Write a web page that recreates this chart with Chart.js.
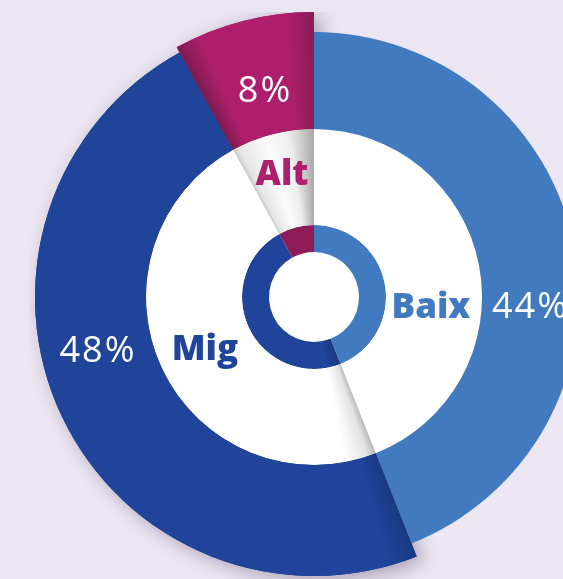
<!DOCTYPE html>
<html>
<head>
<meta charset="utf-8">
<script src="https://cdn.jsdelivr.net/npm/chart.js@4.4.0/dist/chart.umd.min.js"></script>
<style>
  html, body { margin: 0; padding: 0; width: 563px; height: 579px; overflow: hidden; background: #ebe6f1; }
  #wrap { position: absolute; left: 29px; top: 12px; width: 570px; height: 570px; }
</style>
</head>
<body>
<div id="wrap"><canvas id="chart"></canvas></div>
<script>
// chart data
const labels = ["Baix", "Mig", "Alt"];
const shares = [44, 48, 8];
const shareLabels = ["44%", "48%", "8%"];

// colours
const baseColors = ["#427ac0", "#1f4499", "#ad1f6c"];
const innerDark = ["#427ac0", "#1a3a85", "#8c1b57"];

// outer ring: each slice sticks out a bit differently
const radiusScale = [265 / 285, 279 / 285, 1];

// start / end angle of every slice, degrees clockwise from the top
var total = shares.reduce(function (a, b) { return a + b; }, 0);
var startDeg = [], endDeg = [], acc = 0;
shares.forEach(function (v) {
  startDeg.push(acc / total * 360);
  acc += v;
  endDeg.push(acc / total * 360);
});

function center(chart) {
  var a = chart.chartArea;
  return { x: (a.left + a.right) / 2, y: (a.top + a.bottom) / 2 };
}

function conic(chart, stops) {
  var c = center(chart);
  var g = chart.ctx.createConicGradient(-Math.PI / 2, c.x, c.y);
  stops.forEach(function (s) { g.addColorStop(Math.min(s[0] / 360, 1), s[1]); });
  return g;
}

function outerColor(ctx) {
  var i = ctx.dataIndex;
  if (!ctx.chart.chartArea || i === 0) return baseColors[i];
  var s = startDeg[i], e = endDeg[i];
  if (i === 1) {
    return conic(ctx.chart, [[s, "#183a84"], [s + 6, baseColors[1]], [e, baseColors[1]]]);
  }
  return conic(ctx.chart, [[s, "#7e1a50"], [s + 5, baseColors[2]], [e - 6, baseColors[2]], [e, "#8a1c58"]]);
}

function spacerColor(ctx) {
  var i = ctx.dataIndex;
  if (!ctx.chart.chartArea || i === 0) return "#ffffff";
  var s = startDeg[i], e = endDeg[i];
  if (i === 1) {
    return conic(ctx.chart, [[s, "#b9b9b9"], [s + 3, "#e4e4e4"], [s + 11, "#ffffff"], [e, "#ffffff"]]);
  }
  return conic(ctx.chart, [[s, "#c9c9c9"], [s + 2, "#e6e6e6"], [s + 12, "#fbfbfb"], [e - 9, "#eeeeee"], [e, "#a8a8a8"]]);
}

function innerColor(ctx) {
  var i = ctx.dataIndex;
  if (!ctx.chart.chartArea || i !== 1) return innerDark[i];
  var s = startDeg[i], e = endDeg[i];
  return conic(ctx.chart, [[s, "#1a3781"], [s + 12, baseColors[1]], [e, baseColors[1]]]);
}

// ring sizes (px at 285 outer radius): outer 168-285, white 72-168, inner 45-72
const ringPlugin = {
  id: "ringPlugin",
  afterDatasetUpdate: function (chart, args) {
    if (args.index !== 0) return;
    var base = args.meta.controller.outerRadius;
    args.meta.data.forEach(function (arc, i) {
      arc.outerRadius = base * radiusScale[i];
    });
  },
  beforeDatasetsDraw: function (chart) {
    var ctx = chart.ctx, c = center(chart);
    var r = chart.getDatasetMeta(1).controller.outerRadius;
    ctx.save();
    ctx.fillStyle = "#ffffff";
    ctx.beginPath();
    ctx.arc(c.x, c.y, r, 0, Math.PI * 2);
    ctx.fill();
    ctx.restore();
  },
  beforeDatasetDraw: function (chart, args) {
    if (args.index !== 0) return;
    // soft shadow of the raised slices, on the background only
    var ctx = chart.ctx, c = center(chart);
    var inner = args.meta.controller.innerRadius;
    ctx.save();
    ctx.beginPath();
    ctx.rect(0, 0, chart.width, chart.height);
    ctx.arc(c.x, c.y, inner, 0, Math.PI * 2, true);
    ctx.clip("evenodd");
    ctx.shadowColor = "rgba(60, 40, 80, 0.38)";
    ctx.shadowBlur = 18;
    ctx.shadowOffsetX = 6;
    ctx.shadowOffsetY = 4;
    args.meta.data.forEach(function (arc, i) {
      if (i > 0) arc.draw(ctx);
    });
    ctx.restore();
  },
  afterDraw: function (chart) {
    var ctx = chart.ctx, c = center(chart);
    ctx.save();
    ctx.textBaseline = "alphabetic";
    // percentages on the outer ring
    ctx.fillStyle = "#ffffff";
    ctx.font = "400 36px 'Open Sans'";
    ctx.letterSpacing = "2px";
    ctx.textAlign = "center";
    ctx.fillText(shareLabels[2], c.x - 49, c.y - 195);
    ctx.fillText(shareLabels[1], c.x - 216, c.y + 65);
    ctx.textAlign = "left";
    ctx.fillText(shareLabels[0], c.x + 178, c.y + 21);
    // category names on the white disc
    ctx.letterSpacing = "0px";
    ctx.font = "800 35px 'Open Sans'";
    ctx.textAlign = "center";
    ctx.fillStyle = baseColors[2];
    ctx.fillText(labels[2], c.x - 32, c.y - 112);
    ctx.fillStyle = baseColors[0];
    ctx.fillText(labels[0], c.x + 117, c.y + 21);
    ctx.fillStyle = baseColors[1];
    ctx.fillText(labels[1], c.x - 109, c.y + 63);
    ctx.restore();
  }
};

new Chart(document.getElementById("chart"), {
  type: "doughnut",
  data: {
    labels: labels,
    datasets: [
      { data: shares, backgroundColor: outerColor, weight: 117 },
      { data: shares, backgroundColor: spacerColor, weight: 96 },
      { data: shares, backgroundColor: innerColor, weight: 27 }
    ]
  },
  options: {
    responsive: true,
    maintainAspectRatio: false,
    animation: false,
    events: [],
    cutout: 45,
    layout: { padding: 0 },
    elements: { arc: { borderWidth: 0, hoverBorderWidth: 0, hoverOffset: 0 } },
    plugins: { legend: { display: false }, tooltip: { enabled: false } }
  },
  plugins: [ringPlugin]
});
</script>
</body>
</html>
